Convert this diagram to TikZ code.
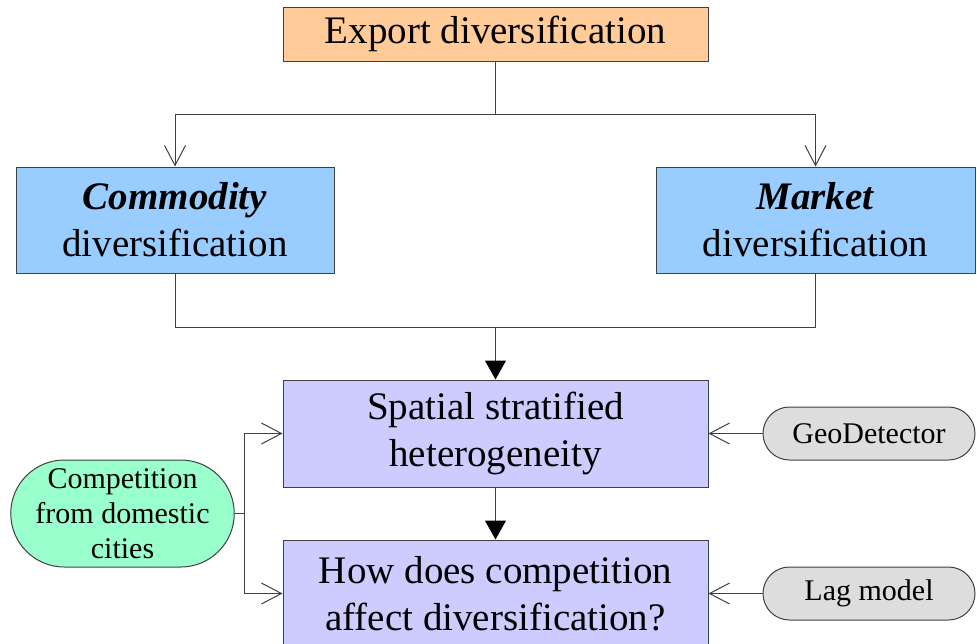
\documentclass[tikz,border=0pt]{standalone}
\usepackage{fontspec}
\setmainfont{Liberation Serif}
\usetikzlibrary{arrows.meta,shapes.misc}
\definecolor{cOrange}{HTML}{FFCC99}
\definecolor{cBlue}{HTML}{99CCFF}
\definecolor{cLav}{HTML}{CCCCFF}
\definecolor{cGreen}{HTML}{99FFCC}
\definecolor{cGray}{HTML}{DDDDDD}
\definecolor{cLine}{HTML}{404040}
\tikzset{
  box/.style={draw=cLine, line width=1pt, inner sep=0pt, align=center, font=\fontsize{39}{47}\selectfont},
  pill/.style={draw=cLine, line width=1pt, rounded rectangle, inner sep=0pt, align=center, font=\fontsize{30}{35}\selectfont},
  conn/.style={draw=cLine, line width=1pt},
  openarr/.style={conn, -{Straight Barb[length=20pt,width=21pt,line width=1pt]}},
  fillarr/.style={conn, -{Triangle[length=19pt,width=21pt,color=black]}},
}
\begin{document}
\begin{tikzpicture}[x=1pt,y=-1pt]
\useasboundingbox (0,0) rectangle (977,643);
\clip (0,0) rectangle (977,643);
\node[box, fill=cOrange, minimum width=425pt, minimum height=54pt] (exp) at (495.5,34) {Export diversification};
\node[box, fill=cBlue, minimum width=318pt, minimum height=106pt] (com) at (175,220) {\textbf{\textit{Commodity}}\\diversification};
\node[box, fill=cBlue, minimum width=319pt, minimum height=106pt] (mar) at (815.5,220) {\textbf{\textit{Market}}\\diversification};
\node[box, fill=cLav, minimum width=425pt, minimum height=107pt] (spa) at (495.5,433.5) {Spatial stratified\\heterogeneity};
\node[box, fill=cLav, minimum width=425pt, minimum height=107pt] (how) at (495.5,593.5) {How does competition\\affect diversification?};
\node[pill, fill=cGreen, minimum width=213pt, minimum height=107pt] (cmp) at (122.5,513.5) {Competition\\from domestic\\cities};
\node[pill, fill=cGray, minimum width=212pt, minimum height=53pt] (geo) at (869,433.5) {GeoDetector};
\node[pill, fill=cGray, minimum width=212pt, minimum height=53pt] (lag) at (869,593.5) {Lag model};
\coordinate (j1) at (495.5,114);
\coordinate (j2) at (495.5,327);
\coordinate (j3) at (244,513.5);
% top split
\draw[conn] (exp.south) -- (j1);
\draw[openarr] (j1) -| (com.north);
\draw[openarr] (j1) -| (mar.north);
% merge
\draw[conn] (com.south) |- (j2);
\draw[conn] (mar.south) |- (j2);
\draw[fillarr] (j2) -- (spa.north);
\draw[fillarr] (spa.south) -- (how.north);
% competition
\draw[conn] (cmp.east) -- (j3);
\draw[openarr] (j3) |- (spa.west);
\draw[openarr] (j3) |- (how.west);
% methods
\draw[openarr] (geo.west) -- (spa.east);
\draw[openarr] (lag.west) -- (how.east);
\end{tikzpicture}
\end{document}
